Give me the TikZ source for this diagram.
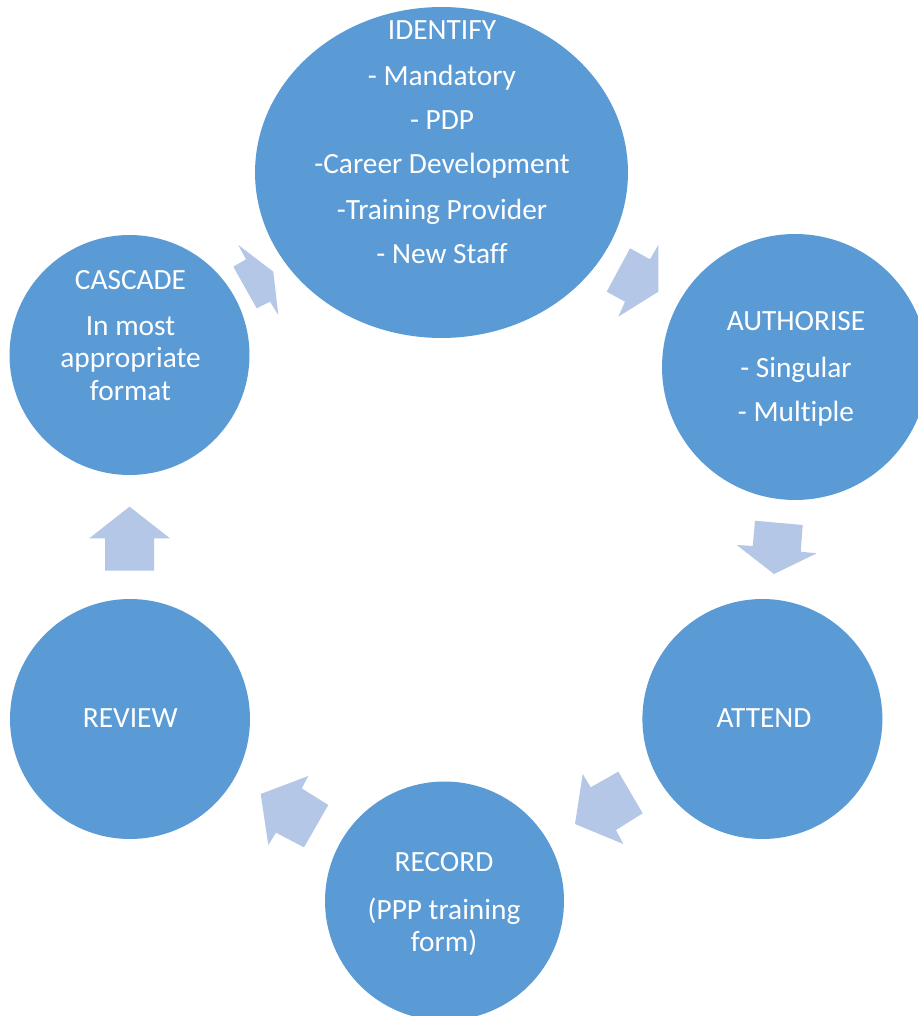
\documentclass[tikz,border=0pt]{standalone}
\usepackage{fontspec}
\setmainfont[Ligatures=NoCommon]{Carlito}
\usetikzlibrary{shapes.geometric}
\definecolor{stageblue}{HTML}{5B9BD5}
\definecolor{arrowblue}{HTML}{B4C7E7}
\newcommand{\stageSize}[0]{4.8cm}

\begin{document}
\begin{tikzpicture}[x=0.02cm, y=-0.02cm]
  \tikzset{stage/.style={circle,fill=stageblue,inner sep=0pt,minimum size=\stageSize},
    stage text/.style={anchor=base,text=white,inner sep=0pt,font=\fontsize{16.7}{20}\selectfont},
    cycle arrow/.style={fill=arrowblue}}
  \path[fill=white,use as bounding box] (0,0) rectangle (918,1016);
  \clip (0,0) rectangle (918,1016);
  \node[ellipse,fill=stageblue,inner sep=0pt,minimum width=7.46cm,minimum height=6.62cm] (identify) at (441.5,172.5) {};
  \node[stage,minimum size=5.32cm] (authorise) at (795,367) {};
  \node[stage] (attend) at (762.4,719) {};
  \node[stage,minimum size=4.78cm] (record) at (444.5,901) {};
  \node[stage] (review) at (130,719) {};
  \node[stage] (cascade) at (129.5,355) {};
  \foreach \y/\txt [count=\i] in {39.3/IDENTIFY, 86/- Mandatory, 129.3/- PDP,
      173.3/-Career Development, 219.3/-Training Provider, 263.5/- New Staff}
    \node[stage text] (identify-\i) at (442,\y) {\txt};
  \foreach \y/\txt [count=\i] in {330.7/AUTHORISE, 377.3/- Singular, 421.7/- Multiple}
    \node[stage text] (authorise-\i) at (796,\y) {\txt};
  \node[stage text] (attend-1) at (764,727.7) {ATTEND};
  \foreach \y/\txt [count=\i] in {871/RECORD, 919.5/(PPP training, 951/form)}
    \node[stage text] (record-\i) at (444,\y) {\txt};
  \node[stage text] (review-1) at (130.3,727.7) {REVIEW};
  \foreach \y/\txt [count=\i] in {290/CASCADE, 336/In most, 367.5/appropriate, 400/format}
    \node[stage text] (cascade-\i) at (130.5,\y) {\txt};
  \fill[cycle arrow] (238.3,245) -- (273.3,271.7) -- (278.3,315) -- (270,301.7)
    -- (256.7,308.3) -- (233.3,266.7) -- (246,259.3) -- cycle;
  \fill[cycle arrow] (630,248.3) -- (650,259.3) -- (658.3,245) -- (658.3,291.7)
    -- (618.3,316.7) -- (625,301.7) -- (606.7,291.7) -- cycle;
  \fill[cycle arrow] (755,520.7) -- (802.7,525) -- (800.7,551.7) -- (816.7,553.3)
    -- (774,574) -- (736.7,545) -- (752.7,546) -- cycle;
  \fill[cycle arrow] (618.3,771.7) -- (642.7,813.3) -- (616,830) -- (623.3,844)
    -- (575,824) -- (582.7,774) -- (590.7,787.3) -- cycle;
  \fill[cycle arrow] (308.3,776) -- (301.7,788.3) -- (328.3,805) -- (304,847.3)
    -- (276,832.7) -- (268.3,845) -- (260.7,794) -- cycle;
  \fill[cycle arrow] (105,570.7) -- (154,570.7) -- (154,538.3) -- (170,538.3)
    -- (129.5,506.7) -- (89.3,538.3) -- (105,538.3) -- cycle;
\end{tikzpicture}
\end{document}
